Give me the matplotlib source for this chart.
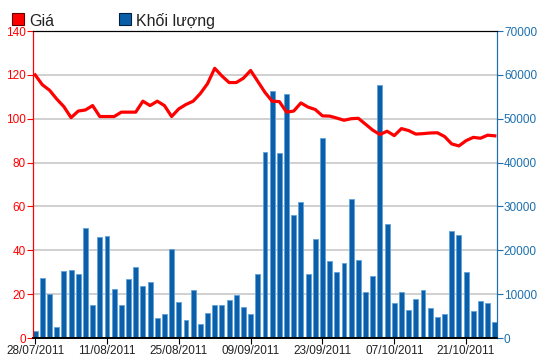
import matplotlib
matplotlib.use("Agg")
import matplotlib.pyplot as plt
from matplotlib.patches import Rectangle

plt.rcParams['font.family'] = ['Liberation Sans', 'DejaVu Sans']

# closing price (left axis) and volume (right axis), one value per trading day
price = [120, 115.5, 113, 109, 105.5, 100.5, 103.5, 104, 106, 101,
         101, 101, 103, 103, 103, 108, 106, 108, 106, 101,
         104.5, 106.5, 108, 111.5, 116, 123, 119.5, 116.5, 116.5, 118.5,
         122, 117, 112, 108, 107.8, 103, 103.5, 107.2, 105.3, 104.2,
         101.3, 101.2, 100.3, 99.3, 100, 100.2, 97.5, 94.8, 92.8, 94.3,
         92.3, 95.5, 94.6, 93, 93.2, 93.5, 93.6, 91.9, 88.5, 87.6,
         90, 91.5, 91.1, 92.5, 92.2]
volume = [1500, 13750, 10000, 2500, 15250, 15500, 14500, 25000, 7500, 23000,
          23250, 11250, 7500, 13500, 16250, 11750, 12750, 4500, 5500, 20250,
          8250, 4000, 11000, 3250, 5750, 7500, 7500, 8750, 9750, 7000,
          5500, 14500, 42500, 56250, 42250, 55750, 28000, 31000, 14500, 22500,
          45500, 17500, 15000, 17000, 31750, 17750, 10500, 14250, 57750, 26000,
          8000, 10500, 6500, 9000, 11000, 6750, 4750, 5500, 24500, 23500,
          15000, 6250, 8500, 8000, 3600]
tick_pos = [0, 10, 20, 30, 40, 50, 60]
tick_labels = ["28/07/2011", "11/08/2011", "25/08/2011", "09/09/2011",
               "23/09/2011", "07/10/2011", "21/10/2011"]

red = "#ff0000"
blue = "#0a5fa8"
axis_blue = "#1c6fae"

fig = plt.figure(figsize=(5.5, 3.64), dpi=100)
ax = fig.add_axes([0.06, 0.0714, 0.8436, 0.8434])
ax2 = ax.twinx()

x = list(range(len(volume)))
ax.bar(x, volume, width=0.68, color=blue, edgecolor="#5fa3dc", linewidth=0.6, zorder=2)
ax.set_ylim(0, 70000)
ax.set_xlim(-0.3, 64.3)
ax.set_yticks(range(0, 70001, 10000))
ax.tick_params(axis='y', left=False, labelleft=False, right=True, labelright=True,
               colors=axis_blue, labelsize=8.5, length=4, pad=1)
ax.grid(axis='y', color="#c8c8c8", linewidth=1.2, zorder=0)
ax.set_axisbelow(True)
ax.set_xticks(tick_pos)
ax.set_xticklabels(tick_labels)
ax.tick_params(axis='x', colors="black", labelsize=8.5, length=4, pad=1)
ax.tick_params(axis='x', labelcolor="#222222")

ax2.plot(x, price, color=red, linewidth=2.3, solid_joinstyle='round', zorder=3)
ax2.set_ylim(0, 140)
ax2.set_yticks(range(0, 141, 20))
ax2.tick_params(axis='y', left=True, labelleft=True, right=False, labelright=False,
                colors=red, labelsize=8.5, length=4, pad=1)
ax2.set_xlim(-0.3, 64.3)

for a in (ax, ax2):
    a.spines['left'].set_color(red)
    a.spines['right'].set_color(axis_blue)
    a.spines['top'].set_color("black")
    a.spines['bottom'].set_color("black")
    a.spines['bottom'].set_linewidth(1.2)

# legend above the plot
fig.patches.append(Rectangle((12 / 550, 1 - 25 / 364), 12 / 550, 12 / 364,
                             transform=fig.transFigure, facecolor=red,
                             edgecolor="#600000", linewidth=0.8))
fig.text(29 / 550, 1 - 26 / 364, "Giá", fontsize=11.5, color="#222222", va='baseline')
fig.patches.append(Rectangle((119 / 550, 1 - 25 / 364), 12 / 550, 12 / 364,
                             transform=fig.transFigure, facecolor=blue,
                             edgecolor="#002040", linewidth=0.8))
fig.text(136 / 550, 1 - 26 / 364, "Khối lượng", fontsize=11.5, color="#222222", va='baseline')

fig.savefig("out.png", dpi=100)
